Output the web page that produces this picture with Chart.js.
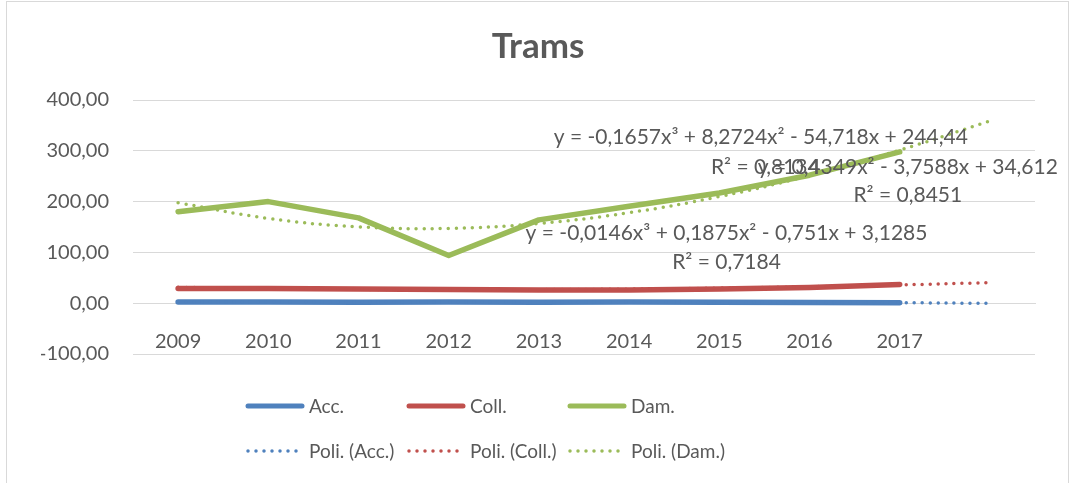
<!DOCTYPE html>
<html>
<head>
<meta charset="utf-8">
<script src="https://cdn.jsdelivr.net/npm/chart.js@4.4.0/dist/chart.umd.min.js"></script>
<style>
html, body { margin: 0; padding: 0; background: #fff; overflow: hidden; }
.moldura { position: absolute; left: 6px; top: 1px; width: 1061px; height: 520px; border: 1px solid #d9d9d9; }
.grafico { position: absolute; left: 0; top: 0; width: 1076px; height: 483px; }
</style>
</head>
<body>
<div class="moldura"></div>
<div class="grafico"><canvas id="grafico-trams" width="1076" height="483"></canvas></div>
<script>
// Dados
const anos = ['2009', '2010', '2011', '2012', '2013', '2014', '2015', '2016', '2017', ''];
const acc = [2.6, 2.4, 2.0, 2.5, 2.0, 2.3, 2.0, 1.5, 1.0];
const coll = [29, 29, 28, 27, 26, 26, 28, 31, 37];
const dam = [180, 200, 168, 94, 164, 191, 217, 252, 298];
// Linhas de tendência polinomiais (um período à frente)
const poliAcc = [2.55, 2.26, 2.17, 2.19, 2.24, 2.22, 2.05, 1.65, 0.91, -0.23];
const poliColl = [31.3, 28.8, 27.3, 26.5, 26.7, 27.7, 29.6, 32.4, 36.0, 40.5];
const poliDam = [197.8, 166.8, 150.3, 147.3, 157.0, 178.2, 209.9, 251.3, 301.3, 358.8];
const yTicks = [-100, 0, 100, 200, 300, 400];

const azul = '#4f81bd';
const vermelho = '#c0504d';
const verde = '#9bbb59';
const texto = '#595959';
const fonte = 'Lato, "Open Sans", sans-serif';

// Equações das tendências (posição em coordenadas dos eixos)
const rotulos = [
    { t: 'y = -0,1657x³ + 8,2724x² - 54,718x + 244,44', x: 6.46, y: 327 },
    { t: 'R² = 0,8134', x: 6.51, y: 268 },
    { t: 'y = 0,4349x² - 3,7588x + 34,612', x: 8.09, y: 268 },
    { t: 'R² = 0,8451', x: 8.09, y: 213 },
    { t: 'y = -0,0146x³ + 0,1875x² - 0,751x + 3,1285', x: 6.08, y: 138 },
    { t: 'R² = 0,7184', x: 6.08, y: 81 }
];

const serie = (label, data, cor) => ({
    label: label, data: data, borderColor: cor, backgroundColor: cor,
    borderWidth: 5.5, borderCapStyle: 'round', borderJoinStyle: 'round',
    pointRadius: 0, fill: false, tension: 0
});
const tendencia = (label, data, cor) => ({
    label: label, data: data, borderColor: cor, backgroundColor: cor,
    borderWidth: 3.5, borderDash: [0, 8], borderCapStyle: 'round',
    pointRadius: 0, fill: false, tension: 0.4, order: -1
});

const rotulosPlugin = {
    id: 'rotulos',
    afterDatasetsDraw(chart) {
        const c = chart.ctx;
        const sx = chart.scales.x, sy = chart.scales.y;
        c.save();
        c.font = '21px ' + fonte;
        c.fillStyle = texto;
        c.textAlign = 'center';
        c.textBaseline = 'middle';
        rotulos.forEach(r => c.fillText(r.t, sx.getPixelForValue(r.x), sy.getPixelForValue(r.y)));
        c.restore();
    }
};

const legendaPlugin = {
    id: 'legenda',
    afterDraw(chart) {
        const c = chart.ctx;
        c.save();
        c.font = '19px ' + fonte;
        c.textBaseline = 'middle';
        chart.data.datasets.forEach((d, i) => {
            const x = 246 + (i % 3) * 161;
            const y = 406 + Math.floor(i / 3) * 45;
            c.beginPath();
            c.strokeStyle = d.borderColor;
            c.lineWidth = d.borderDash ? 3.5 : 5;
            c.lineCap = 'round';
            c.setLineDash(d.borderDash || []);
            c.moveTo(x + 2, y);
            c.lineTo(x + 56, y);
            c.stroke();
            c.setLineDash([]);
            c.fillStyle = texto;
            c.fillText(d.label, x + 63, y + 1);
        });
        c.restore();
    }
};

new Chart(document.getElementById('grafico-trams').getContext('2d'), {
    type: 'line',
    data: {
        labels: anos,
        datasets: [
            serie('Acc.', acc, azul),
            serie('Coll.', coll, vermelho),
            serie('Dam.', dam, verde),
            tendencia('Poli. (Acc.)', poliAcc, azul),
            tendencia('Poli. (Coll.)', poliColl, vermelho),
            tendencia('Poli. (Dam.)', poliDam, verde)
        ]
    },
    options: {
        responsive: false,
        animation: false,
        devicePixelRatio: 1,
        layout: { padding: { left: 41, right: 41, top: 0, bottom: 129 } },
        plugins: {
            legend: { display: false },
            tooltip: { enabled: false },
            title: {
                display: true,
                text: 'Trams',
                color: texto,
                font: { family: fonte, size: 35, weight: 'bold' },
                padding: { top: 26, bottom: 32 }
            }
        },
        scales: {
            x: {
                offset: true,
                position: { y: 0 },
                grid: { display: false, drawTicks: false },
                border: { color: '#d9d9d9', width: 1 },
                ticks: {
                    color: texto, font: { family: fonte, size: 20 },
                    padding: 26, maxRotation: 0, autoSkip: false
                }
            },
            y: {
                min: -100, max: 400,
                afterFit(scale) { scale.width = 92; },
                afterBuildTicks(scale) { scale.ticks = yTicks.map(v => ({ value: v })); },
                grid: { color: '#d9d9d9', lineWidth: 1, drawTicks: false },
                border: { display: false },
                ticks: {
                    color: texto, font: { family: fonte, size: 20 }, padding: 24,
                    callback: v => v.toFixed(2).replace('.', ',')
                }
            }
        }
    },
    plugins: [rotulosPlugin, legendaPlugin]
});
</script>
</body>
</html>
